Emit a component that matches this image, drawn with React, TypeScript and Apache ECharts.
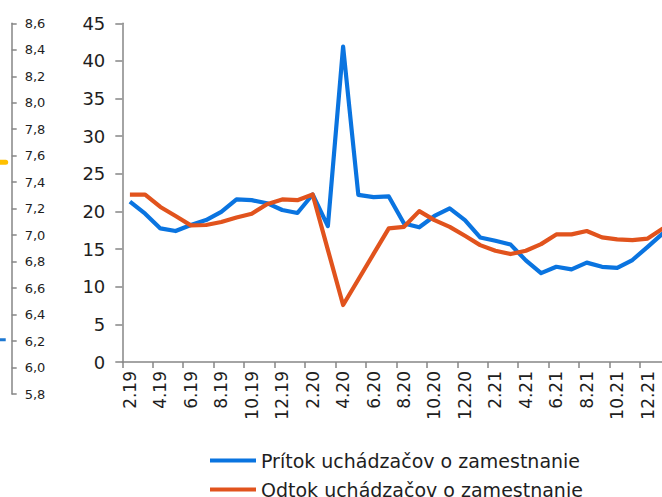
import React, { useEffect, useRef } from "react";
import * as echarts from "echarts";

// Months 2.19 .. 1.22
const categories: string[] = [
  "2.19", "3.19", "4.19", "5.19", "6.19", "7.19", "8.19", "9.19", "10.19", "11.19", "12.19",
  "1.20", "2.20", "3.20", "4.20", "5.20", "6.20", "7.20", "8.20", "9.20", "10.20", "11.20", "12.20",
  "1.21", "2.21", "3.21", "4.21", "5.21", "6.21", "7.21", "8.21", "9.21", "10.21", "11.21", "12.21",
  "1.22",
];

const pritok: number[] = [
  21.3, 19.7, 17.75, 17.4, 18.2, 18.85, 19.95, 21.6, 21.5, 21.1, 20.2, 19.8,
  22.25, 18.05, 41.9, 22.2, 21.9, 22.0, 18.4, 17.9, 19.4, 20.4, 18.85, 16.55,
  16.1, 15.6, 13.5, 11.8, 12.65, 12.3, 13.2, 12.65, 12.5, 13.55, 15.3, 17.1,
];

const odtok: number[] = [
  22.25, 22.25, 20.6, 19.4, 18.15, 18.2, 18.6, 19.2, 19.7, 20.97, 21.6, 21.5,
  22.25, 14.9, 7.57, 10.96, 14.36, 17.75, 17.96, 20.05, 18.85, 17.96, 16.77, 15.53,
  14.78, 14.34, 14.78, 15.66, 16.95, 16.95, 17.4, 16.55, 16.29, 16.2, 16.4, 17.75,
];

// fragment of a neighbouring chart (its right-hand axis 5,8 .. 8,6)
const sideCategories: string[] = ["a", "b", "c", "d", "e", "f"];
const sideYellow: number[] = [7.56, 7.56, 7.55, 7.55, 7.55, 7.55];
const sideBlue: number[] = [6.21, 6.21, 6.21, 6.21, 6.21, 6.21];

const NAME_IN = "Prítok uchádzačov o zamestnanie";
const NAME_OUT = "Odtok uchádzačov o zamestnanie";

const FONT = "'DejaVu Sans', Verdana, sans-serif";
const AXIS_GRAY = "#868686";
const TEXT = "#1e1e1e";
const BLUE = "#0A74E0";
const ORANGE = "#E1531D";

export default function App() {
  const ref = useRef<HTMLDivElement>(null);

  useEffect(() => {
    if (!ref.current) return;
    const chart = echarts.init(ref.current, undefined, { renderer: "svg" });
    const legendBase = {
      orient: "horizontal",
      left: 205,
      itemWidth: 46,
      itemHeight: 4,
      icon: "rect",
      textStyle: { fontFamily: FONT, fontSize: 19, color: TEXT },
    };
    chart.setOption({
      animation: false,
      textStyle: { fontFamily: FONT, color: TEXT },
      grid: [
        { left: 122.3, right: -8.5, top: 23.3, bottom: 135, containLabel: false, outerBoundsMode: "none" },
        { left: -60, right: 650.3, top: 23.3, bottom: 103, containLabel: false, outerBoundsMode: "none" },
      ],
      legend: [
        { ...legendBase, top: 446, data: [NAME_IN] },
        { ...legendBase, top: 475, data: [NAME_OUT] },
      ],
      xAxis: [
        {
          type: "category",
          gridIndex: 0,
          data: categories,
          boundaryGap: true,
          axisLine: { lineStyle: { color: AXIS_GRAY, width: 1.5 } },
          axisTick: { show: true, interval: 1, length: 6, lineStyle: { color: AXIS_GRAY, width: 1.5 } },
          axisLabel: {
            interval: 1,
            rotate: 90,
            margin: 9,
            fontFamily: FONT,
            fontSize: 17,
            color: TEXT,
          },
        },
        {
          type: "category",
          gridIndex: 1,
          data: sideCategories,
          boundaryGap: true,
          show: false,
        },
      ],
      yAxis: [
        {
          type: "value",
          gridIndex: 0,
          min: 0,
          max: 45,
          interval: 5,
          splitLine: { show: false },
          axisLine: { show: true, lineStyle: { color: AXIS_GRAY, width: 1.5 } },
          axisTick: { show: true, length: 7, lineStyle: { color: AXIS_GRAY, width: 1.5 } },
          axisLabel: { margin: 17, fontFamily: FONT, fontSize: 18, color: TEXT },
        },
        {
          type: "value",
          gridIndex: 1,
          position: "right",
          min: 58,
          max: 86,
          interval: 2,
          splitLine: { show: false },
          axisLine: { show: true, lineStyle: { color: AXIS_GRAY, width: 1.5 } },
          axisTick: { show: true, length: 5, lineStyle: { color: AXIS_GRAY, width: 1.5 } },
          axisLabel: {
            margin: 13,
            fontFamily: FONT,
            fontSize: 13,
            color: TEXT,
            formatter: (v: number) => (v / 10).toFixed(1).replace(".", ","),
          },
        },
      ],
      series: [
        {
          name: NAME_IN,
          type: "line",
          xAxisIndex: 0,
          yAxisIndex: 0,
          data: pritok,
          symbol: "none",
          color: BLUE,
          lineStyle: { width: 4.2, color: BLUE, join: "round" },
        },
        {
          name: NAME_OUT,
          type: "line",
          xAxisIndex: 0,
          yAxisIndex: 0,
          data: odtok,
          symbol: "none",
          color: ORANGE,
          lineStyle: { width: 4.2, color: ORANGE, join: "round" },
        },
        {
          name: "side-yellow",
          type: "line",
          xAxisIndex: 1,
          yAxisIndex: 1,
          data: sideYellow.map((v) => v * 10),
          symbol: "none",
          lineStyle: { width: 5, color: "#FFC000", cap: "round" },
        },
        {
          name: "side-blue",
          type: "line",
          xAxisIndex: 1,
          yAxisIndex: 1,
          data: sideBlue.map((v) => v * 10),
          symbol: "none",
          lineStyle: { width: 3, color: "#1E78D2" },
        },
      ],
    });
    return () => chart.dispose();
  }, []);

  return (
    <div
      ref={ref}
      style={{ position: "fixed", left: 0, top: 0, width: 662, height: 497, background: "#fff" }}
    />
  );
}
